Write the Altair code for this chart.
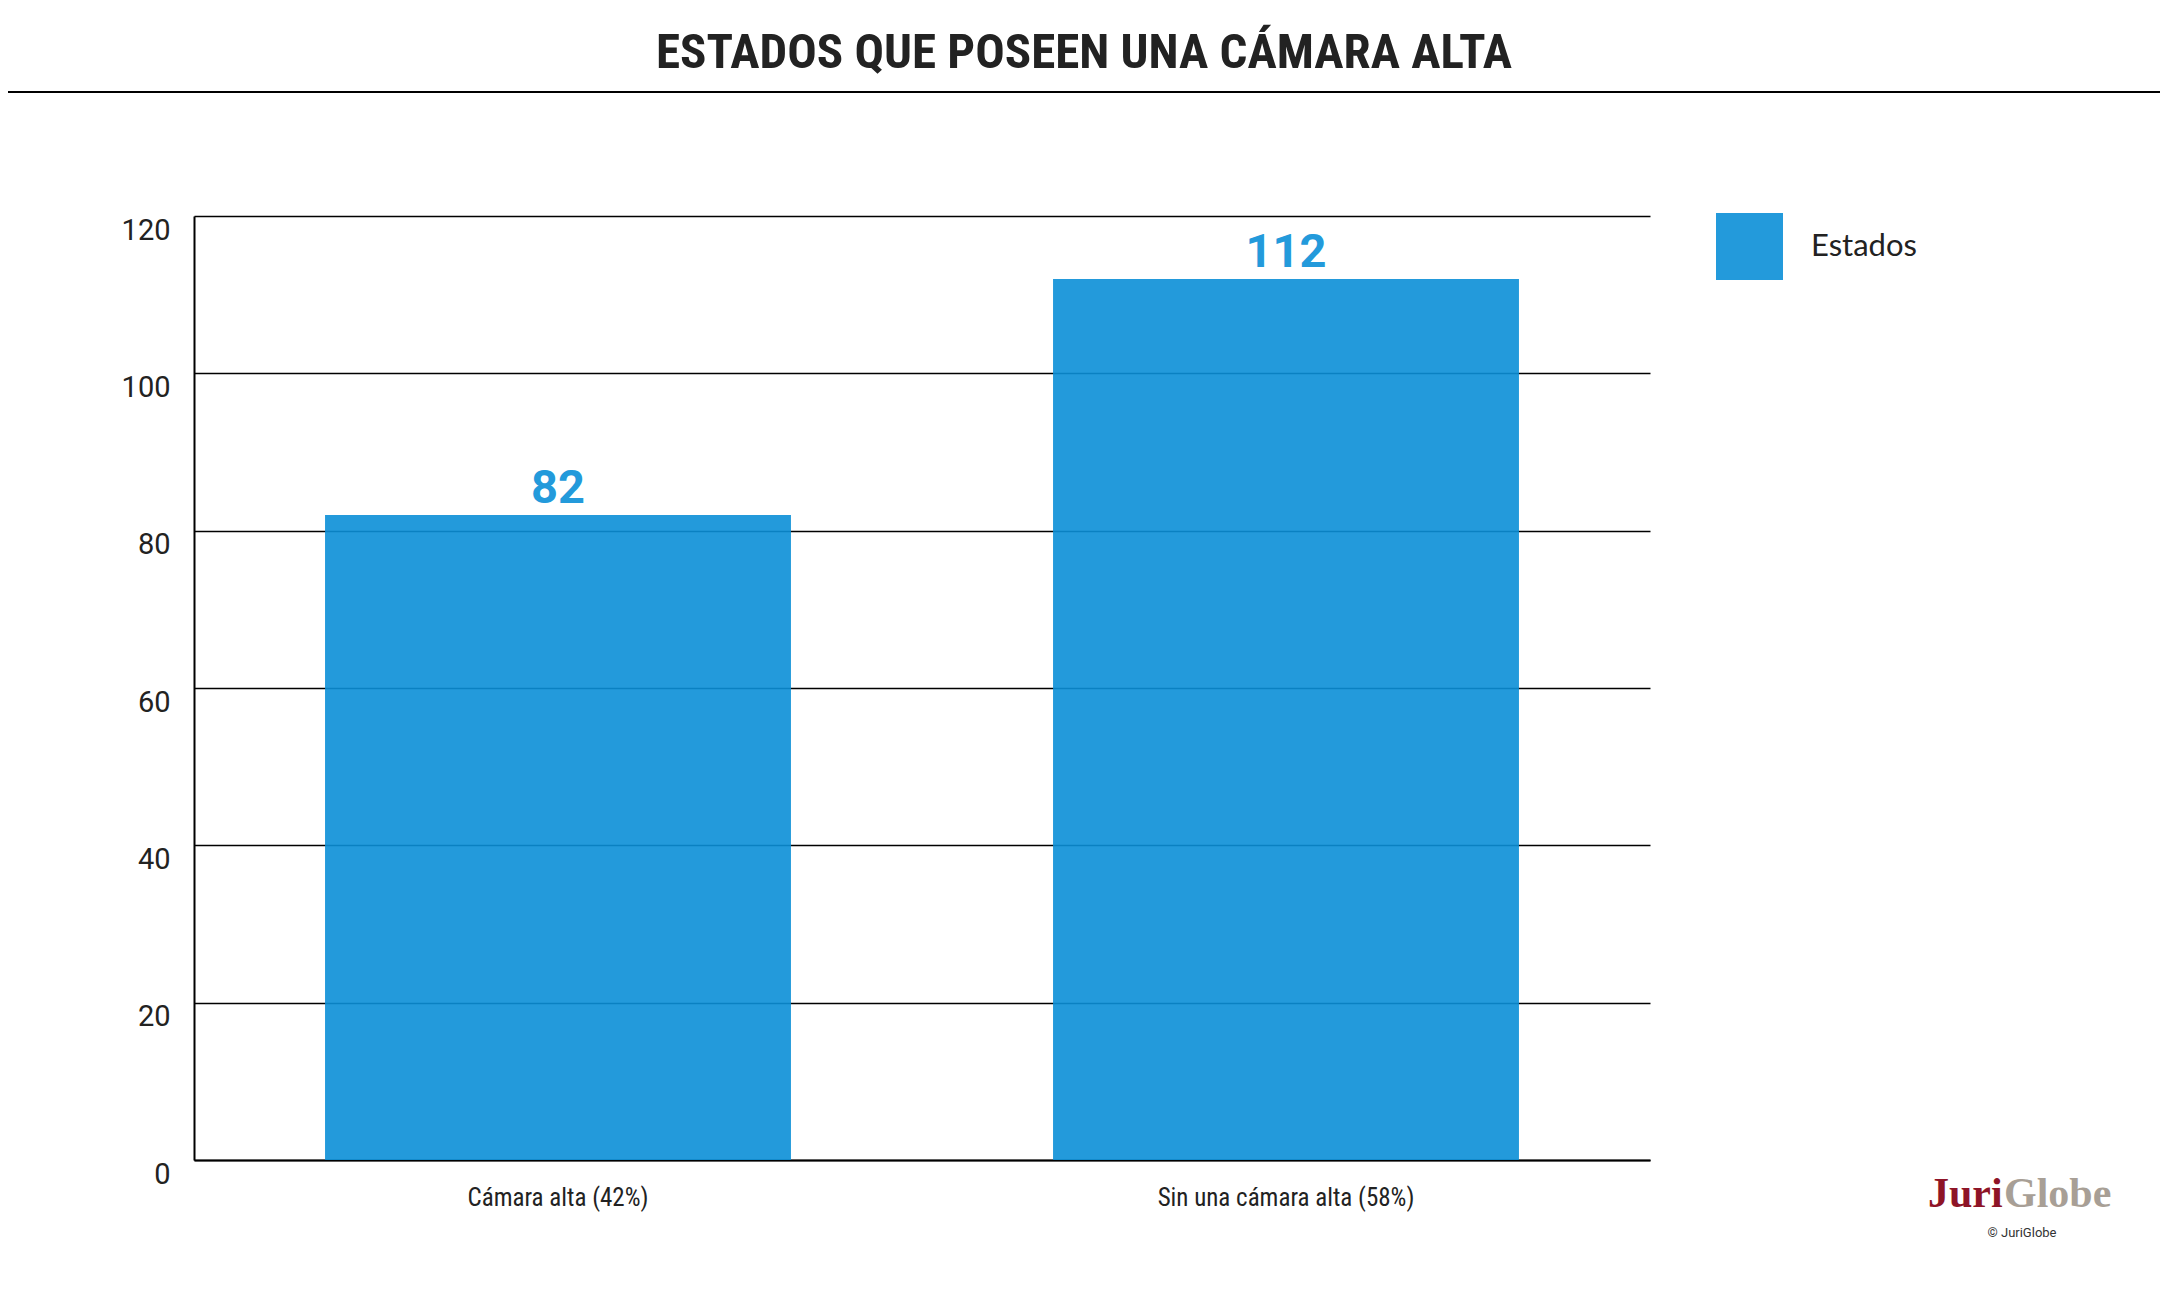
import altair as alt
import pandas as pd

categorias = ["Cámara alta (42%)", "Sin una cámara alta (58%)"]
valores = [82, 112]
serie = ["Estados", "Estados"]
y_ticks = [0, 20, 40, 60, 80, 100, 120]
titulo = "ESTADOS QUE POSEEN UNA CÁMARA ALTA"

df = pd.DataFrame({"categoria": categorias, "valor": valores, "serie": serie})
one = pd.DataFrame({"k": [0]})

W, H = 1456, 944
PAD_L, PAD_T = 186, 208
PAD_R = 2152 - PAD_L - W
PAD_B = 1285 - PAD_T - H

BAR = "#0B8FD7"
LABEL_BLUE = "#239ADB"
NARROW = "'Roboto Condensed', Roboto, sans-serif"
SANS = "Roboto, sans-serif"

x_enc = alt.X(
    "categoria:N",
    sort=categorias,
    scale=alt.Scale(paddingInner=0.36, paddingOuter=0.18),
    axis=alt.Axis(
        title=None, labelAngle=0, ticks=False, domain=True, domainColor="#000000",
        domainWidth=2, labelFont=NARROW, labelFontSize=25, labelColor="#222222",
        labelPadding=25, grid=False, labelLimit=0,
    ),
)
y_enc = alt.Y(
    "valor:Q",
    scale=alt.Scale(domain=[0, 120], nice=False),
    axis=alt.Axis(
        title=None, values=y_ticks, ticks=False, domain=True, domainColor="#000000",
        domainWidth=2, grid=True, gridColor="#000000", gridWidth=1.6, gridOpacity=1,
        labelFont=SANS, labelFontSize=29, labelColor="#222222", labelPadding=24,
        labelBaseline="top", labelOffset=0, labelLimit=0,
    ),
)

bars = alt.Chart(df).mark_bar(opacity=0.9).encode(
    x=x_enc,
    y=y_enc,
    color=alt.Color(
        "serie:N",
        scale=alt.Scale(domain=["Estados"], range=[BAR]),
        legend=alt.Legend(
            title=None, orient="none", legendX=1522, legendY=-3,
            symbolType="square", symbolSize=4489, symbolStrokeWidth=0,
            labelFont="Lato", labelFontSize=31, labelColor="#222222",
            labelOffset=28, labelBaseline="middle",
        ),
    ),
)

labels = alt.Chart(df).mark_text(
    font=SANS, fontSize=47, fontWeight="bold", color=LABEL_BLUE,
    baseline="alphabetic", dy=-12,
).encode(
    x=alt.X("categoria:N", sort=categorias),
    y="valor:Q",
    text="valor:Q",
)

title_mark = alt.Chart(one).mark_text(
    font=NARROW, fontSize=49, fontWeight="bold", color="#222222",
    align="center", baseline="alphabetic",
).encode(x=alt.value(890), y=alt.value(-148), text=alt.value(titulo))

sep = alt.Chart(one).mark_rule(color="#000000", strokeWidth=2).encode(
    x=alt.value(-200), x2=alt.value(1980), y=alt.value(-124)
)

logo_red = alt.Chart(one).mark_text(
    font="Liberation Serif", fontSize=42, fontWeight="bold", color="#8E1427",
    align="left", baseline="alphabetic",
).encode(x=alt.value(1734), y=alt.value(991), text=alt.value("Juri"))

logo_gray = alt.Chart(one).mark_text(
    font="Liberation Serif", fontSize=42, fontWeight="bold", color="#A89F96",
    align="left", baseline="alphabetic",
).encode(x=alt.value(1810), y=alt.value(991), text=alt.value("Globe"))

copy = alt.Chart(one).mark_text(
    font=SANS, fontSize=13, color="#333333", align="center", baseline="alphabetic",
).encode(x=alt.value(1828), y=alt.value(1021), text=alt.value("© JuriGlobe"))

chart = alt.layer(title_mark, sep, bars, labels, logo_red, logo_gray, copy).properties(
    width=W,
    height=H,
    autosize=alt.AutoSizeParams(type="none"),
    padding={"left": PAD_L, "top": PAD_T, "right": PAD_R, "bottom": PAD_B},
    background="#ffffff",
).configure_view(stroke=None)

chart.save("out.html", embed_options={"renderer": "svg", "actions": False})
